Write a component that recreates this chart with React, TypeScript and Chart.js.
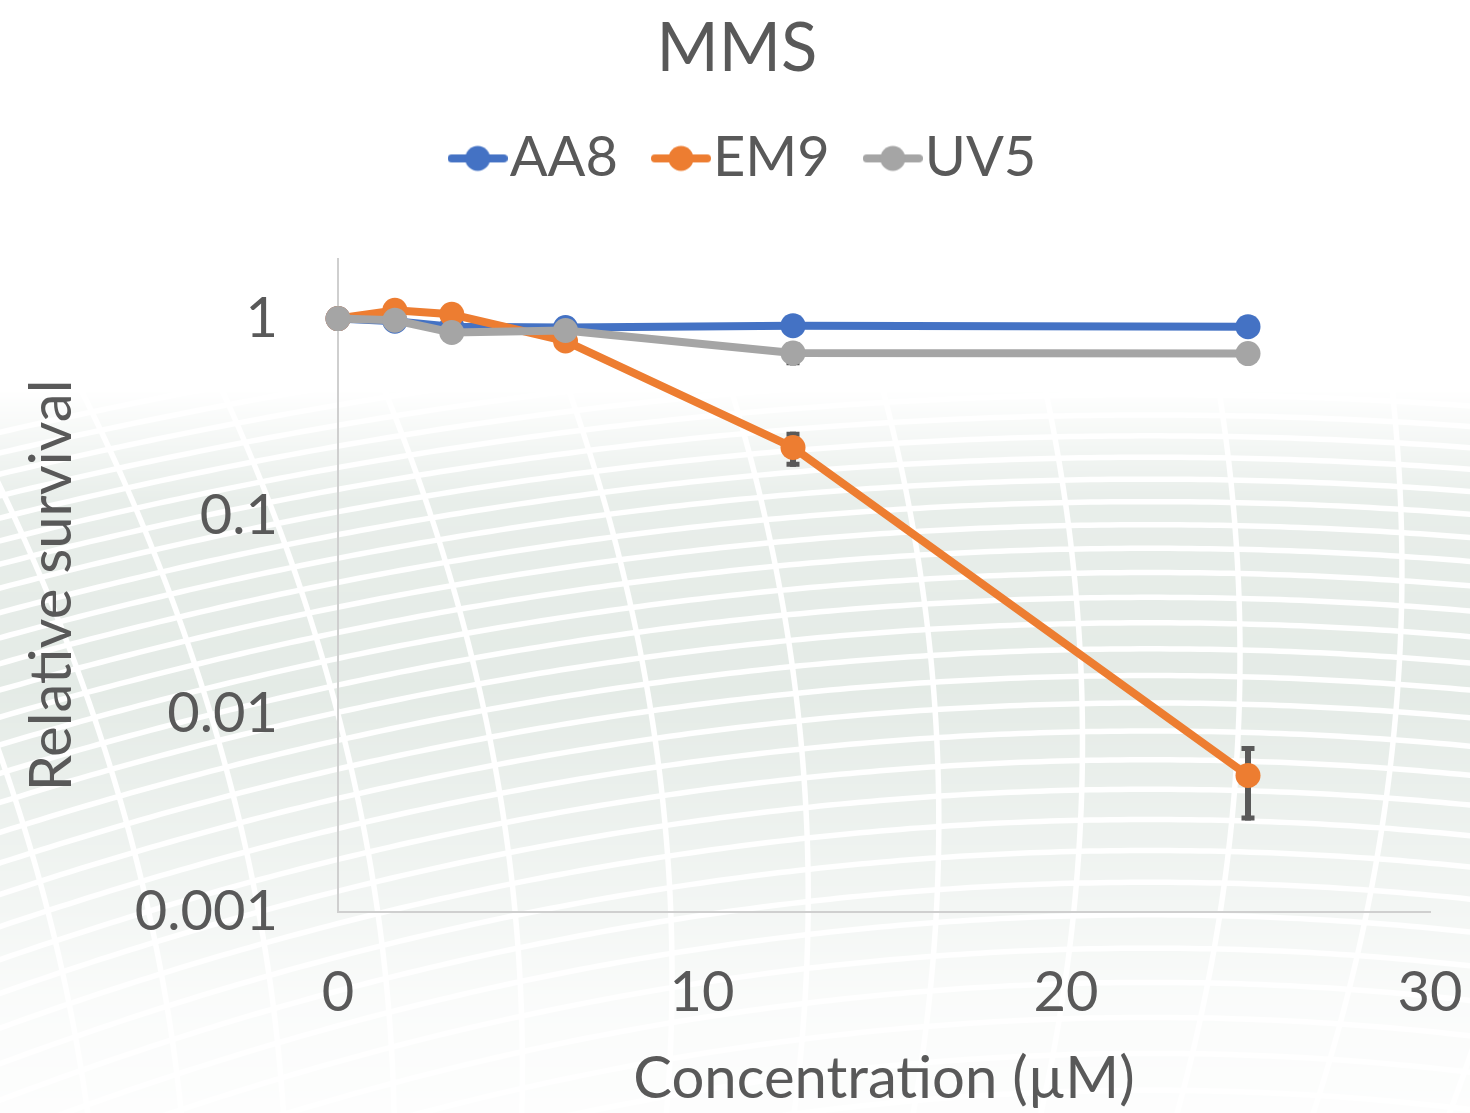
import React, { useEffect, useRef } from 'react';
import { Chart, registerables } from 'chart.js';

Chart.register(...registerables);

// ---- data ----
const concentrations = [0, 1.5625, 3.125, 6.25, 12.5, 25];
const aa8Survival = [1, 0.97, 0.91, 0.9, 0.92, 0.91];
const em9Survival = [1, 1.1, 1.05, 0.77, 0.223, 0.0049];
const uv5Survival = [1, 0.98, 0.85, 0.87, 0.67, 0.665];
const aa8Error = [0, 0, 0, 0, 0, 0];
const em9Error = [0, 0, 0, 0, 0.045, 0.002];
const uv5Error = [0, 0, 0, 0, 0.09, 0];
const seriesNames = ['AA8', 'EM9', 'UV5'];
const seriesColors = ['#4472C4', '#ED7D31', '#A5A5A5'];
const yTickValues = [0.001, 0.01, 0.1, 1];
const yTickLabels = ['0.001', '0.01', '0.1', '1'];
const xTickValues = [0, 10, 20, 30];
const chartTitle = 'MMS';
const xTitle = 'Concentration (µM)';
const yTitle = 'Relative survival';

const W = 1470;
const H = 1113;
const TEXT = '#595959';
const FONT = 'Lato';

function makeMarker(color: string) {
  const c = document.createElement('canvas');
  c.width = 60;
  c.height = 28;
  const g = c.getContext('2d')!;
  g.strokeStyle = color;
  g.lineWidth = 8;
  g.lineCap = 'round';
  g.beginPath();
  g.moveTo(4, 14);
  g.lineTo(56, 14);
  g.stroke();
  g.fillStyle = color;
  g.beginPath();
  g.arc(30, 14, 12.5, 0, Math.PI * 2);
  g.fill();
  return c;
}

let bgCache: HTMLCanvasElement | null = null;
function getBackground(w: number, h: number) {
  if (bgCache) return bgCache;
  const off = document.createElement('canvas');
  off.width = w;
  off.height = h;
  const o = off.getContext('2d')!;
  o.fillStyle = '#d6e0d9';
  o.fillRect(0, 0, w, h);
  o.strokeStyle = '#ffffff';
  o.lineWidth = 5.5;
  let y0 = 300;
  let gap = 18;
  while (y0 < h + 300) {
    o.beginPath();
    for (let x = -20; x <= w + 20; x += 10) {
      const y = y0 + 0.0001 * (x - 1150) * (x - 1150) * (1 + (y0 - 300) / 900);
      if (x === -20) o.moveTo(x, y);
      else o.lineTo(x, y);
    }
    o.stroke();
    y0 += gap;
    gap *= 1.025;
  }
  const xs = [-150, -40, 70, 190, 320, 470, 640, 790, 930, 1080, 1240, 1400, 1560];
  xs.forEach((x0) => {
    o.beginPath();
    for (let y = 250; y <= h + 20; y += 10) {
      const t = y - 650;
      const slope = 0.45 * (1 - (x0 + 150) / 1400);
      const x = x0 + slope * t - 0.0003 * t * t;
      if (y === 250) o.moveTo(x, y);
      else o.lineTo(x, y);
    }
    o.stroke();
  });
  o.globalCompositeOperation = 'destination-in';
  const g = o.createLinearGradient(0, 0, 0, h);
  g.addColorStop(0, 'rgba(0,0,0,0)');
  g.addColorStop(0.35, 'rgba(0,0,0,0)');
  g.addColorStop(0.45, 'rgba(0,0,0,0.55)');
  g.addColorStop(0.62, 'rgba(0,0,0,0.65)');
  g.addColorStop(0.76, 'rgba(0,0,0,0.4)');
  g.addColorStop(0.9, 'rgba(0,0,0,0.12)');
  g.addColorStop(1, 'rgba(0,0,0,0.05)');
  o.fillStyle = g;
  o.fillRect(0, 0, w, h);
  bgCache = off;
  return off;
}

const backgroundPlugin = {
  id: 'bgPattern',
  beforeDraw(chart: any) {
    const { ctx, width, height } = chart;
    ctx.save();
    ctx.fillStyle = '#ffffff';
    ctx.fillRect(0, 0, width, height);
    ctx.drawImage(getBackground(width, height), 0, 0);
    ctx.restore();
  },
};

const errorBarPlugin = {
  id: 'errorBars',
  beforeDatasetsDraw(chart: any) {
    const { ctx } = chart;
    const xs = chart.scales.x;
    const ys = chart.scales.y;
    ctx.save();
    ctx.strokeStyle = '#595959';
    chart.data.datasets.forEach((ds: any) => {
      const errs: number[] = ds.errors || [];
      ds.data.forEach((p: any, i: number) => {
        const e = errs[i];
        if (!e) return;
        const px = xs.getPixelForValue(p.x);
        const top = ys.getPixelForValue(p.y + e);
        const bot = ys.getPixelForValue(p.y - e);
        ctx.lineWidth = 6;
        ctx.beginPath();
        ctx.moveTo(px, top);
        ctx.lineTo(px, bot);
        ctx.stroke();
        ctx.lineWidth = 5;
        ctx.beginPath();
        ctx.moveTo(px - 6.5, top + 2.5);
        ctx.lineTo(px + 6.5, top + 2.5);
        ctx.moveTo(px - 6.5, bot - 2.5);
        ctx.lineTo(px + 6.5, bot - 2.5);
        ctx.stroke();
      });
    });
    ctx.restore();
  },
};

const LEGEND_HEIGHT = 187.6;
const LEGEND_SHIFT = 18;
const legendSizePlugin = {
  id: 'legendSize',
  beforeLayout(chart: any) {
    const lg = chart.legend;
    if (lg && !lg.__patched) {
      const fit = lg.fit;
      lg.fit = function () {
        fit.call(this);
        this.height = LEGEND_HEIGHT;
      };
      lg.__patched = true;
    }
  },
  afterLayout(chart: any) {
    const lg = chart.legend;
    if (lg) {
      lg.left += LEGEND_SHIFT;
      lg.right += LEGEND_SHIFT;
    }
  },
};

export default function App() {
  const ref = useRef<HTMLCanvasElement>(null);
  useEffect(() => {
    let chart: Chart | null = null;
    let cancelled = false;
    const build = () => {
      if (cancelled || !ref.current) return;
      Chart.defaults.font.family = FONT;
      Chart.defaults.color = TEXT;
      const markers = seriesColors.map(makeMarker);
      const values = [aa8Survival, em9Survival, uv5Survival];
      const errors = [aa8Error, em9Error, uv5Error];
      const datasets: any[] = seriesNames.map((name, i) => ({
        label: name,
        data: concentrations.map((x, j) => ({ x, y: values[i][j] })),
        errors: errors[i],
        borderColor: seriesColors[i],
        backgroundColor: seriesColors[i],
        pointBackgroundColor: seriesColors[i],
        pointBorderWidth: 0,
        pointRadius: 12.5,
        borderWidth: 8,
        borderJoinStyle: 'round',
        tension: 0,
        clip: false,
        order: 2 - i,
      }));
      chart = new Chart(ref.current, {
        type: 'line',
        data: { datasets },
        plugins: [backgroundPlugin, errorBarPlugin, legendSizePlugin],
        options: {
          animation: false,
          responsive: false,
          devicePixelRatio: 1,
          layout: { padding: { left: 44, right: 40, top: 0, bottom: 0 } },
          plugins: {
            tooltip: { enabled: false },
            title: {
              display: true,
              text: chartTitle,
              color: TEXT,
              font: { size: 67, weight: 'normal', lineHeight: 0.6 },
              padding: { top: 28.9, bottom: 2.3 },
            },
            legend: {
              display: true,
              position: 'top',
              labels: {
                usePointStyle: true,
                pointStyleWidth: 8,
                padding: 59,
                color: TEXT,
                font: { size: 56 },
                generateLabels: (c: any) =>
                  c.data.datasets.map((ds: any, i: number) => ({
                    text: ds.label,
                    pointStyle: markers[i],
                    fillStyle: seriesColors[i],
                    strokeStyle: seriesColors[i],
                    lineWidth: 0,
                    hidden: false,
                    datasetIndex: i,
                    fontColor: TEXT,
                  })),
              },
            },
          },
          scales: {
            x: {
              type: 'linear',
              min: 0,
              max: 30,
              afterBuildTicks: (s: any) => {
                s.ticks = xTickValues.map((v) => ({ value: v }));
              },
              afterFit: (s: any) => {
                s.height = 201;
                s.paddingLeft = 0;
                s.paddingRight = 0;
              },
              grid: { display: false, drawTicks: false },
              border: { display: true, color: '#cfcfcf', width: 2 },
              ticks: {
                color: TEXT,
                font: { size: 56 },
                padding: 47,
                maxRotation: 0,
                autoSkip: false,
                callback: (v: any) => String(v),
              },
              title: {
                display: true,
                text: xTitle,
                color: TEXT,
                font: { size: 58, lineHeight: 1.0 },
                padding: { top: 0, bottom: 5 },
              },
            },
            y: {
              type: 'logarithmic',
              min: 0.001,
              max: 2,
              afterBuildTicks: (s: any) => {
                s.ticks = yTickValues.map((v) => ({ value: v }));
              },
              afterFit: (s: any) => {
                s.width = 294;
                s.paddingTop = 0;
                s.paddingBottom = 0;
              },
              grid: { display: false, drawTicks: false },
              border: { display: true, color: '#cfcfcf', width: 2 },
              ticks: {
                color: TEXT,
                font: { size: 56 },
                padding: 60,
                autoSkip: false,
                callback: (v: any) => {
                  const idx = yTickValues.indexOf(Number(v));
                  return idx >= 0 ? yTickLabels[idx] : '';
                },
              },
              title: {
                display: true,
                text: yTitle,
                color: TEXT,
                font: { size: 58, lineHeight: 1.0 },
                padding: { top: -20.4, bottom: 0 },
              },
            },
          },
        } as any,
      });
    };
    const fonts: any = (document as any).fonts;
    if (fonts && fonts.load) {
      Promise.all([fonts.load(`56px ${FONT}`)])
        .catch(() => undefined)
        .then(build);
    } else {
      build();
    }
    return () => {
      cancelled = true;
      if (chart) chart.destroy();
    };
  }, []);
  return (
    <div style={{ position: 'fixed', left: 0, top: 0, width: W, height: H, background: '#fff' }}>
      <canvas ref={ref} width={W} height={H} style={{ display: 'block', width: W, height: H }} />
    </div>
  );
}
